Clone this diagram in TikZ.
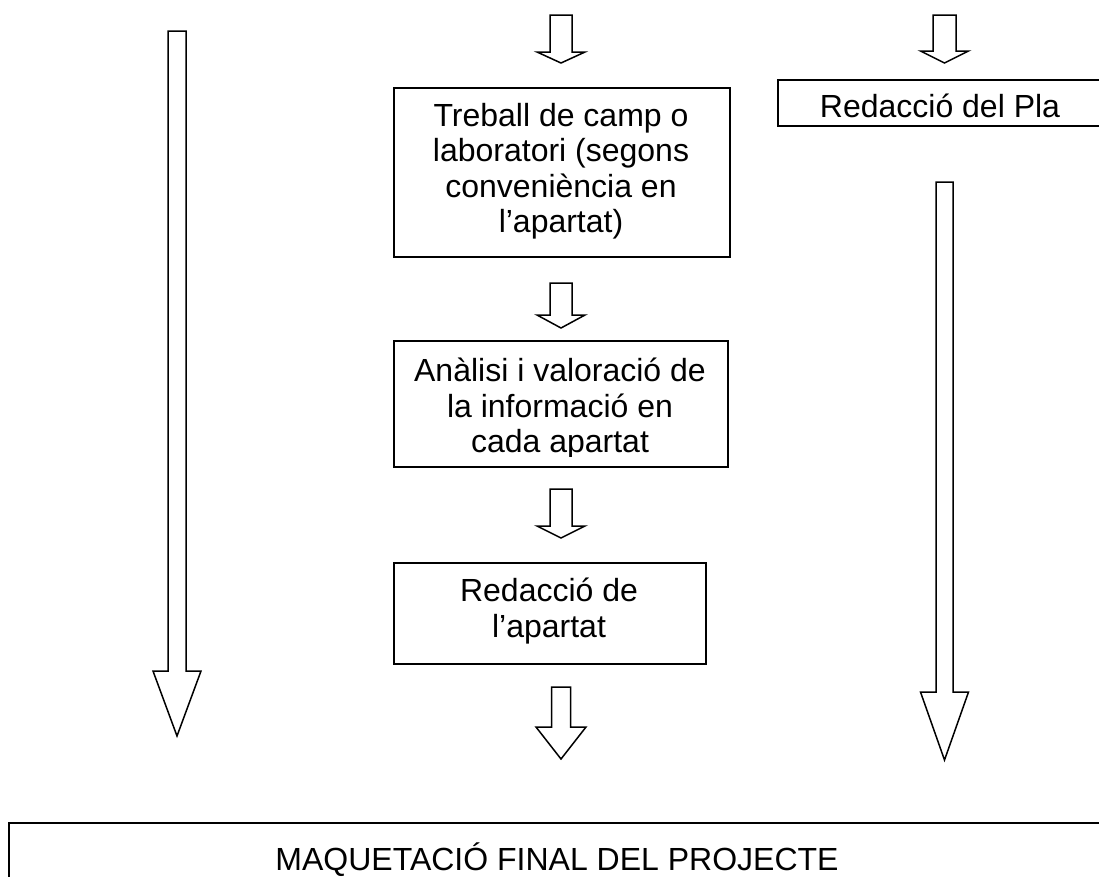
\documentclass[tikz,border=0pt]{standalone}
\usepackage{fontspec}
\setmainfont{Liberation Sans}
\tikzset{
  boxst/.style={draw, line width=1.5pt, inner sep=0pt, anchor=north west},
  blk/.style={draw, line width=1.5pt, fill=white, line join=miter},
  txt/.style={font=\fontsize{32}{35.5}\selectfont, align=center, inner sep=0pt}
}
% #1 centre x, #2 top y, #3 shaft half width, #4 head base y, #5 head half width, #6 tip y
\newcommand\blkarrow[6]{%
  \draw[blk] (#1-#3,#2) -- (#1+#3,#2) -- (#1+#3,#4) -- (#1+#5,#4) -- (#1,#6)
    -- (#1-#5,#4) -- (#1-#3,#4) -- cycle;}
\begin{document}
\begin{tikzpicture}[x=1pt,y=-1pt]
\useasboundingbox (0,0) rectangle (1099,876);
\clip (0,0) rectangle (1099,876);

% boxes
\node[boxst, minimum width=336pt, minimum height=169pt] (b1) at (393,87) {};
\node[boxst, minimum width=334pt, minimum height=126pt] (b2) at (393,340) {};
\node[boxst, minimum width=312pt, minimum height=101pt] (b3) at (393,562) {};
\node[boxst, minimum width=326pt, minimum height=46pt] (b4) at (777,79) {};
\node[boxst, minimum width=1112pt, minimum height=80pt] (b5) at (8,822) {};

% texts
\node[txt] (t1) at (561,171.3) {Treball de camp o\\laboratori (segons\\conveniència en\\l’apartat)};
\begin{scope}
  \clip (394,341) rectangle (726,456);
  \node[txt] (t2) at (560,409) {Anàlisi i valoració de\\la informació en\\cada apartat};
\end{scope}
\node[txt] (t3) at (549,611) {Redacció de\\l’apartat};
\node[txt, anchor=base] (t4) at (940,117) {Redacció del Pla};
\node[txt, anchor=base] (t5) at (557,870) {MAQUETACIÓ FINAL DEL PROJECTE};

% block arrows
\blkarrow{561}{15}{11}{52}{24}{63}
\blkarrow{561}{283}{11}{315}{24}{328}
\blkarrow{561}{489}{11}{526}{24}{538}
\blkarrow{561}{687}{9.5}{727}{25}{759}
\blkarrow{944.5}{15}{11.5}{51}{24}{63}
\blkarrow{944.5}{182}{8.5}{692}{24}{760}
\blkarrow{177}{31}{9}{671}{24}{736}
\end{tikzpicture}
\end{document}
